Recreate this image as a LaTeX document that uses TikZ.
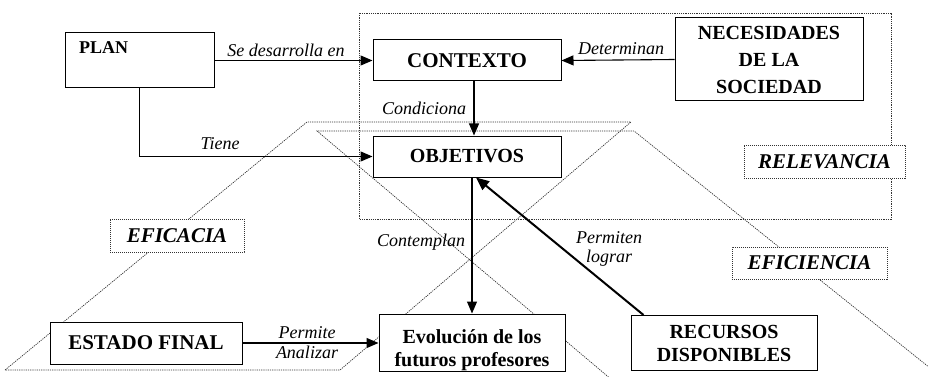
\documentclass[tikz,border=0pt]{standalone}
\usepackage{fontspec}
\setmainfont{Liberation Serif}
\usetikzlibrary{arrows.meta,calc}
\begin{document}
\begin{tikzpicture}[x=1pt,y=-1pt,
  box/.style={draw, line width=1pt, fill=white, inner sep=0pt, align=center,
    font=\fontsize{20}{24}\selectfont\bfseries},
  dotbox/.style={draw=black!80, dash pattern=on 1.2pt off 0.8pt, line width=0.8pt, fill=white, inner sep=0pt,
    font=\fontsize{21}{24}\selectfont\bfseries\itshape},
  region/.style={draw=black!80, dash pattern=on 1.2pt off 1pt, line width=0.7pt},
  lbl/.style={font=\fontsize{18}{19}\selectfont\itshape, inner sep=0pt, align=center},
  arr/.style={line width=1.1pt, -{Triangle[length=12pt,width=10pt]}},
  thickarr/.style={line width=2pt, -{Triangle[length=13pt,width=11pt]}},
]
\useasboundingbox (0,0) rectangle (928,377);
\begin{scope}
\clip (0,0) rectangle (928,377);
% dotted regions
\draw[region] (359,13) rectangle (891,219);
\draw[region] (5,370) -- (307,122) -- (631,122) -- (340,370) -- cycle;
\draw[region] (612,380) -- (317,131) -- (634,131) -- (945,380);

% boxes
\node[box, minimum width=149pt, minimum height=55pt] (plan) at (139.5,60.5) {};
\node[font=\fontsize{18}{20}\selectfont\bfseries, anchor=north west, inner sep=0pt] (plantxt) at (79,41) {PLAN};
\node[box, minimum width=188pt, minimum height=41pt, font=\fontsize{21}{24}\selectfont\bfseries] (contexto) at (467,60.5) {CONTEXTO};
\node[box, minimum width=188pt, minimum height=41pt] (objetivos) at (467,156.5) {OBJETIVOS};
\node[box, minimum width=188pt, minimum height=83pt, font=\fontsize{20}{27}\selectfont\bfseries] (neces) at (769,59.5) {NECESIDADES\\DE LA\\SOCIEDAD};
\node[box, minimum width=192pt, minimum height=42pt, font=\fontsize{21}{24}\selectfont\bfseries] (estado) at (146,343) {ESTADO FINAL};
\node[box, minimum width=186pt, minimum height=57pt] (evol) at (472,342.5) {};
\node[font=\fontsize{20}{23}\selectfont\bfseries, align=center, inner sep=0pt] (evoltxt) at (472,350) {Evolución de los\\futuros profesores};
\node[box, minimum width=186pt, minimum height=55pt, font=\fontsize{20}{23}\selectfont\bfseries] (recursos) at (724,343) {RECURSOS\\DISPONIBLES};

% dotted label boxes
\node[dotbox, minimum width=134pt, minimum height=33pt] (eficacia) at (177,235.5) {EFICACIA};
\node[dotbox, minimum width=161pt, minimum height=33pt] (relevancia) at (824.5,161.5) {RELEVANCIA};
\node[dotbox, minimum width=155pt, minimum height=32pt] (eficiencia) at (809.5,263) {EFICIENCIA};

% connectors
\draw[arr] (plan.east) -- (contexto.west);
\draw[arr] (neces.west) -- (contexto.west -| contexto.east);
\draw[arr] ($(contexto.south)+(7,0)$) -- ($(objetivos.north)+(7,0)$);
\draw[arr] (plan.south) |- (objetivos.west);
\draw[arr] (objetivos.south -| evol.north) -- (evol.north);
\draw[arr] (estado.east) -- (evol.west |- estado.east);
\draw[thickarr] ($(recursos.north west)+(13,0)$) -- ($(objetivos.south)+(9,0)$);

% labels
\node[lbl] (l1) at (286,50) {Se desarrolla en};
\node[lbl] (l2) at (621,49) {Determinan};
\node[lbl] (l3) at (424,108) {Condiciona};
\node[lbl] (l4) at (220,144) {Tiene};
\node[lbl] (l5) at (421,242) {Contemplan};
\node[lbl] (l6) at (609,249) {Permiten\\lograr};
\node[lbl] (l7) at (307,333) {Permite};
\node[lbl] (l8) at (307,352) {Analizar};
\end{scope}
\end{tikzpicture}
\end{document}
